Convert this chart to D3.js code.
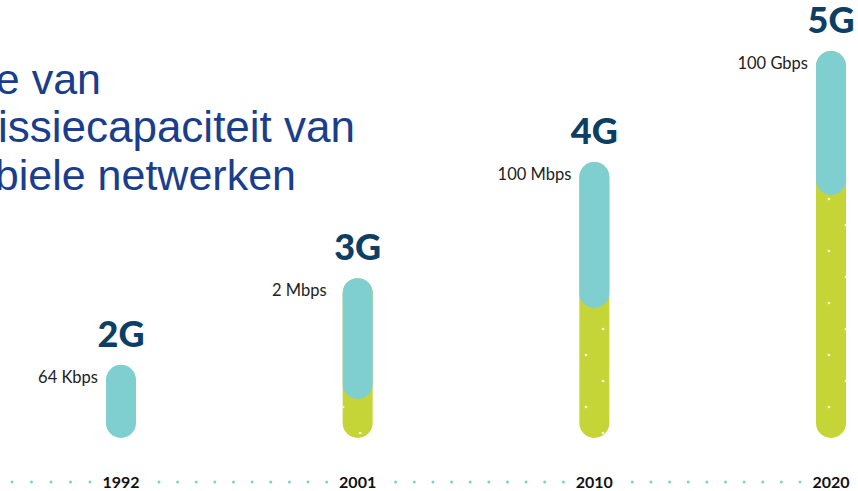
<!DOCTYPE html>
<html>
<head>
<meta charset="utf-8">
<script src="https://cdn.jsdelivr.net/npm/d3@7"></script>
<style>
  body { margin: 0; background: #fff; overflow: hidden; }
  svg { display: block; }
</style>
</head>
<body>
<svg id="chart" width="858" height="491"></svg>
<script>
// data (bar lengths are in arbitrary infographic units, 5G = 100)
var generations = ["2G", "3G", "4G", "5G"];
var years = ["1992", "2001", "2010", "2020"];
var speeds = ["64 Kbps", "2 Mbps", "100 Mbps", "100 Gbps"];
var barTotal = [18.9, 41.3, 71.3, 100];
var greenPart = [0, 10.1, 33.6, 62.8];
var titleLines = ["Evolutie van", "transmissiecapaciteit van", "mobiele netwerken"];

var color = {
  teal: "#7fcfd0",
  green: "#c5d538",
  navy: "#0d3e64",
  title: "#1a3d8c",
  text: "#222"
};

var svg = d3.select("#chart"),
    barW = 30,
    baseY = 438;

// layout tweaks: title line right edges / sizes, gap between speed label and bar
var titleEnd = [101, 355, 296],
    titleSize = [43, 44, 43],
    labelGap = [8, 16, 8, 8];

var x = d3.scalePoint().domain(generations).range([121, 831]);
var y = d3.scaleLinear().domain([0, 100]).range([baseY, 51]);

var data = generations.map(function(g, i) {
  return {gen: g, year: years[i], speed: speeds[i], total: barTotal[i], green: greenPart[i], gap: labelGap[i]};
});

// white dot texture on the green parts
var pat = svg.append("defs").append("pattern")
    .attr("id", "dots")
    .attr("patternUnits", "userSpaceOnUse")
    .attr("width", 34.7).attr("height", 52);
pat.append("circle").attr("cx", 13.1).attr("cy", 17).attr("r", 1.3).attr("fill", "#fff").attr("opacity", 0.85);
pat.append("circle").attr("cx", 30.8).attr("cy", 43).attr("r", 1.3).attr("fill", "#fff").attr("opacity", 0.85);

// title (runs off the left edge)
svg.selectAll(".title").data(titleLines).enter().append("text")
    .attr("class", "title")
    .attr("x", function(d, i) { return titleEnd[i]; })
    .attr("y", function(d, i) { return 94 + i * 48; })
    .attr("font-family", "'Liberation Sans', Arial, sans-serif")
    .attr("font-size", function(d, i) { return titleSize[i]; })
    .attr("fill", color.title)
    .attr("text-anchor", "end")
    .text(function(d) { return d; });

// bars
var bars = svg.selectAll(".bar").data(data).enter().append("g").attr("class", "bar");

var greenBars = bars.filter(function(d) { return d.green > 0; });
greenBars.append("rect")
    .attr("x", function(d) { return x(d.gen) - barW / 2; })
    .attr("y", function(d) { return y(d.total); })
    .attr("width", barW)
    .attr("height", function(d) { return baseY - y(d.total); })
    .attr("rx", barW / 2)
    .attr("fill", color.green);
greenBars.append("rect")
    .attr("x", function(d) { return x(d.gen) - barW / 2; })
    .attr("y", function(d) { return y(d.total); })
    .attr("width", barW)
    .attr("height", function(d) { return baseY - y(d.total); })
    .attr("rx", barW / 2)
    .attr("fill", "url(#dots)");

bars.append("rect")
    .attr("x", function(d) { return x(d.gen) - barW / 2; })
    .attr("y", function(d) { return y(d.total); })
    .attr("width", barW)
    .attr("height", function(d) { return y(d.green) - y(d.total); })
    .attr("rx", barW / 2)
    .attr("fill", color.teal);

// generation labels
bars.append("text")
    .attr("x", function(d) { return x(d.gen); })
    .attr("y", function(d) { return y(d.total) - 18; })
    .attr("text-anchor", "middle")
    .attr("font-family", "Lato, sans-serif")
    .attr("font-weight", 900)
    .attr("font-size", 36)
    .attr("fill", color.navy)
    .text(function(d) { return d.gen; });

// speed labels
bars.append("text")
    .attr("x", function(d) { return x(d.gen) - barW / 2 - d.gap; })
    .attr("y", function(d) { return y(d.total) + 18; })
    .attr("text-anchor", "end")
    .attr("font-family", "Lato, sans-serif")
    .attr("font-size", 16.5)
    .attr("fill", color.text)
    .text(function(d) { return d.speed; });

// timeline: year labels and dotted line between them
var timeY = 482;
bars.append("text")
    .attr("x", function(d) { return x(d.gen); })
    .attr("y", 488)
    .attr("text-anchor", "middle")
    .attr("font-family", "Lato, sans-serif")
    .attr("font-weight", 700)
    .attr("font-size", 16)
    .attr("fill", "#111")
    .text(function(d) { return d.year; });

var centers = generations.map(function(g) { return x(g); });
var dots = [];
centers.forEach(function(c, i) {
  var start = i === 0 ? 12 : centers[i - 1] + 38,
      end = c - 31,
      n = Math.round((end - start) / 19) + 1;
  for (var k = 0; k < n; k++) dots.push(start + k * (end - start) / (n - 1));
});
svg.selectAll(".tdot").data(dots).enter().append("circle")
    .attr("class", "tdot")
    .attr("cx", function(d) { return d; })
    .attr("cy", timeY)
    .attr("r", 1.5)
    .attr("fill", color.teal);
</script>
</body>
</html>
